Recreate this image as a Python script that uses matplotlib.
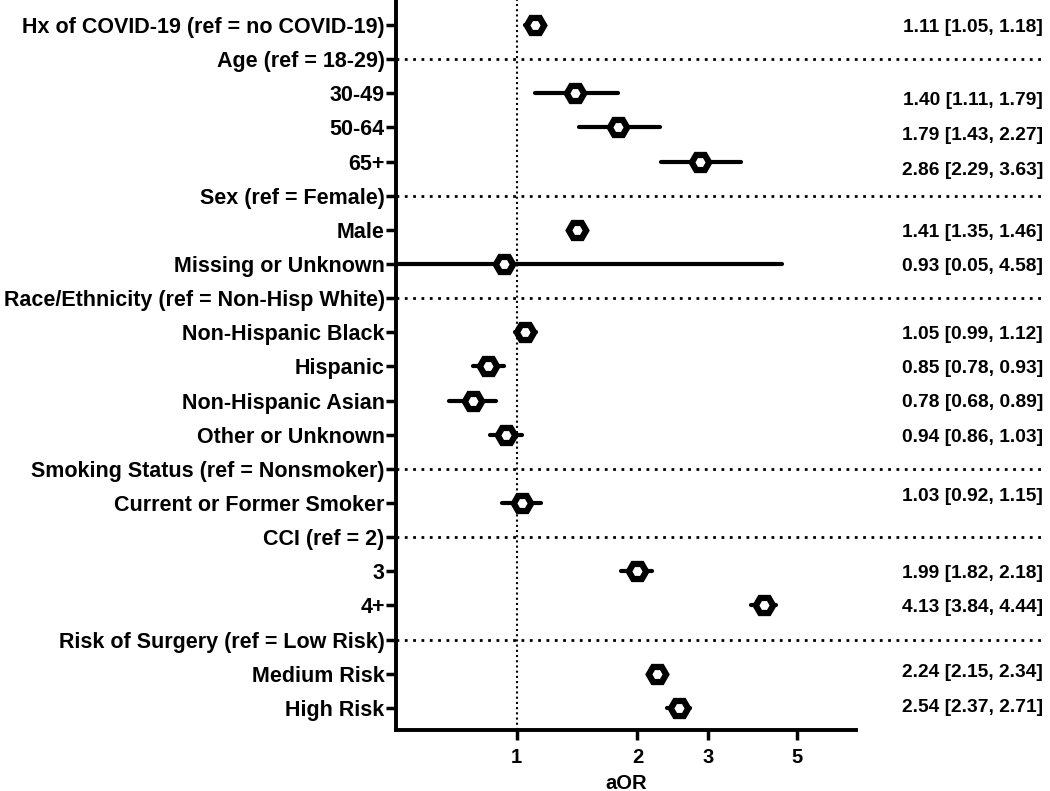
import numpy as np
import matplotlib
matplotlib.use("Agg")
import matplotlib.pyplot as plt

plt.rcParams['font.family'] = ['Liberation Sans', 'DejaVu Sans']
plt.rcParams['font.weight'] = 'bold'

labels = [
    "Hx of COVID-19 (ref = no COVID-19)",
    "Age (ref = 18-29)",
    "30-49",
    "50-64",
    "65+",
    "Sex (ref = Female)",
    "Male",
    "Missing or Unknown",
    "Race/Ethnicity (ref = Non-Hisp White)",
    "Non-Hispanic Black",
    "Hispanic",
    "Non-Hispanic Asian",
    "Other or Unknown",
    "Smoking Status (ref = Nonsmoker)",
    "Current or Former Smoker",
    "CCI (ref = 2)",
    "3",
    "4+",
    "Risk of Surgery (ref = Low Risk)",
    "Medium Risk",
    "High Risk",
]
headers = [1, 5, 8, 13, 15, 18]

aor = [1.11, None, 1.40, 1.79, 2.86, None, 1.41, 0.93, None, 1.05, 0.85, 0.78,
       0.94, None, 1.03, None, 1.99, 4.13, None, 2.24, 2.54]
lo = [1.05, None, 1.11, 1.43, 2.29, None, 1.35, 0.05, None, 0.99, 0.78, 0.68,
      0.86, None, 0.92, None, 1.82, 3.84, None, 2.15, 2.37]
hi = [1.18, None, 1.79, 2.27, 3.63, None, 1.46, 4.58, None, 1.12, 0.93, 0.89,
      1.03, None, 1.15, None, 2.18, 4.44, None, 2.34, 2.71]

xticks = [1, 2, 3, 5]

# the right-hand text column is not quite level with its rows in the original
text_shift = {2: 0.13, 3: 0.16, 4: 0.19, 14: -0.25, 19: -0.1, 20: -0.08}

fig = plt.figure(figsize=(10.5, 7.91), dpi=100)
ax = fig.add_axes([0.377, 0.077, 0.438, 0.923])

ax.set_xscale('log')
ax.set_xlim(0.5, 7)
ax.set_ylim(20.65, -0.73)

rows = np.arange(len(labels))
tr = ax.get_yaxis_transform()

# reference line at aOR = 1
ax.axvline(1, color='black', lw=1.5, ls=(0, (1, 1.5)), zorder=1)

# dotted lines for group headers, running into the text column
for h in headers:
    ax.plot([0, 1.41], [h, h], transform=tr, color='black', lw=2,
            ls=(0, (1, 2)), clip_on=False, zorder=1)

for i in rows:
    if aor[i] is None:
        continue
    ax.plot([lo[i], hi[i]], [i, i], color='black', lw=3,
            solid_capstyle='round', zorder=2)
    ax.plot(aor[i], i, marker='H', ms=12.5, mfc='white', mec='black',
            mew=4.5, ls='none', zorder=3)
    dy = 0.07 + text_shift.get(i, 0)
    ax.text(1.407, i + dy, "{:.2f} [{:.2f}, {:.2f}]".format(aor[i], lo[i], hi[i]),
            transform=tr, ha='right', va='center', fontsize=13.8,
            fontweight='bold')

ax.set_yticks(rows)
ax.set_yticklabels(labels, fontsize=15.5, fontweight='bold')
ax.set_xticks(xticks)
ax.set_xticklabels([str(t) for t in xticks], fontsize=14.5, fontweight='bold')
ax.xaxis.set_minor_locator(matplotlib.ticker.NullLocator())
ax.set_xlabel("aOR", fontsize=14.5, fontweight='bold', labelpad=5)

for s in ['top', 'right']:
    ax.spines[s].set_visible(False)
for s in ['left', 'bottom']:
    ax.spines[s].set_linewidth(2.8)
ax.tick_params(axis='both', width=2.5, length=7, pad=1)
ax.tick_params(axis='x', pad=6)

fig.savefig("out.png", dpi=100)
